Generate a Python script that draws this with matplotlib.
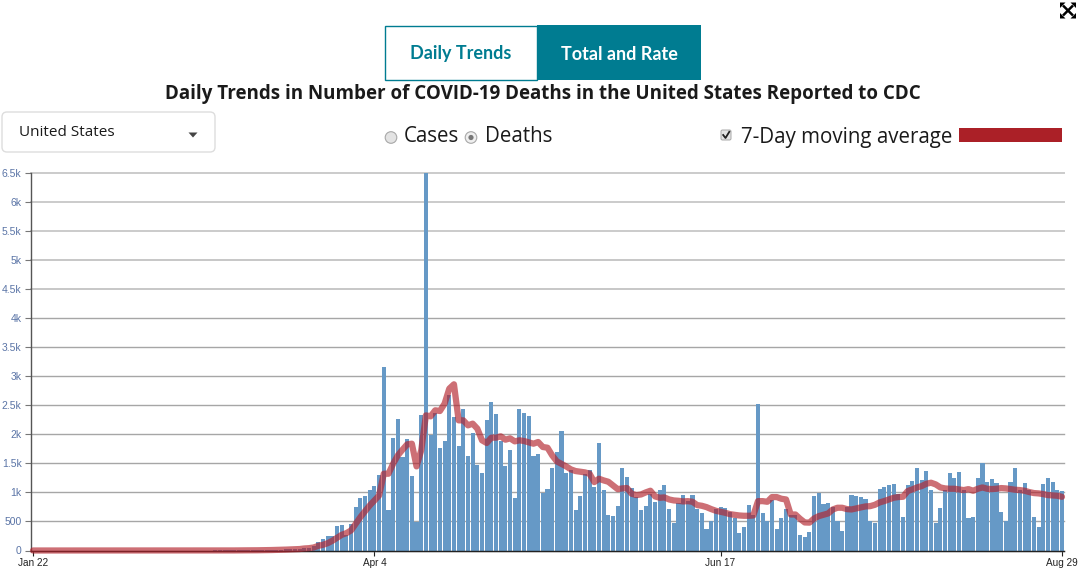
import matplotlib
matplotlib.use("Agg")
import matplotlib.pyplot as plt
import numpy as np
from matplotlib.patches import Rectangle, FancyBboxPatch, Polygon, Circle

title = "Daily Trends in Number of COVID-19 Deaths in the United States Reported to CDC"
x_tick_days = [0, 73, 147, 220]
x_tick_labels = ["Jan 22", "Apr 4", "Jun 17", "Aug 29"]
y_ticks = [0, 500, 1000, 1500, 2000, 2500, 3000, 3500, 4000, 4500, 5000, 5500, 6000, 6500]
y_tick_labels = ["0", "500", "1k", "1.5k", "2k", "2.5k", "3k", "3.5k", "4k", "4.5k", "5k", "5.5k", "6k", "6.5k"]

daily_deaths = [
    0, 0, 0, 0, 0, 0, 0, 0, 0, 0,
    0, 0, 0, 0, 0, 0, 0, 0, 0, 0,
    0, 0, 0, 0, 0, 0, 0, 0, 0, 0,
    0, 0, 0, 0, 0, 0, 0, 0, 0, 1,
    1, 1, 1, 2, 2, 2, 3, 4, 5, 7,
    8, 10, 12, 15, 18, 20, 25, 30, 40, 50,
    80, 138, 190, 253, 247, 420, 442, 259, 454, 741,
    908, 931, 1046, 1115, 1293, 3155, 690, 1942, 2258, 1609,
    1925, 1276, 494, 2327, 6500, 1988, 2368, 1759, 1879, 2681,
    2300, 1805, 2442, 1620, 2023, 1465, 1333, 2247, 2552, 2350,
    1879, 1460, 1724, 902, 2442, 2373, 2310, 1632, 1655, 994,
    1063, 1425, 1701, 2050, 1328, 1391, 701, 931, 1310, 1391,
    1092, 1850, 1046, 615, 592, 770, 1414, 1264, 1069, 920,
    695, 759, 977, 833, 1034, 1126, 707, 471, 816, 948,
    850, 948, 713, 644, 368, 500, 718, 753, 730, 661,
    552, 305, 408, 782, 603, 2520, 649, 506, 862, 368,
    557, 718, 603, 603, 270, 236, 322, 937, 994, 805,
    816, 750, 500, 333, 753, 948, 931, 920, 880, 500,
    477, 1052, 1086, 1121, 1149, 971, 569, 1132, 1195, 1420,
    1218, 1374, 1050, 477, 736, 1040, 1328, 1253, 1345, 1040,
    563, 569, 1253, 1500, 1172, 1236, 1155, 661, 500, 1178,
    1414, 1040, 1161, 1040, 575, 397, 1144, 1247, 1178, 1040,
    1017,
]

moving_average = [
    0, 0, 0, 0, 0, 0, 0, 0, 0, 0,
    0, 0, 0, 0, 0, 0, 0, 0, 0, 0,
    0, 0, 0, 0, 0, 0, 0, 0, 0, 0,
    0, 0, 0, 0, 0, 0, 0, 0, 0, 1,
    1, 1, 1, 1, 2, 2, 3, 3, 4, 5,
    6, 8, 10, 12, 15, 18, 20, 25, 35, 40,
    52, 80, 98, 126, 167, 218, 270, 299, 345, 460,
    575, 678, 776, 862, 948, 1322, 1322, 1494, 1638, 1736,
    1828, 1839, 1448, 1724, 2327, 2310, 2414, 2402, 2529, 2787,
    2862, 2241, 2241, 2155, 2184, 2098, 1897, 1851, 1943, 1943,
    1966, 1908, 1931, 1879, 1897, 1885, 1862, 1839, 1868, 1782,
    1770, 1638, 1534, 1490, 1448, 1397, 1368, 1356, 1345, 1322,
    1178, 1236, 1207, 1184, 1121, 1057, 1069, 1075, 977, 954,
    965, 1000, 1029, 931, 908, 914, 879, 862, 856, 845,
    850, 839, 782, 770, 747, 713, 684, 667, 649, 626,
    615, 603, 598, 598, 603, 850, 850, 839, 920, 920,
    891, 879, 620, 620, 546, 483, 480, 552, 592, 615,
    638, 707, 736, 736, 713, 707, 724, 741, 759, 764,
    787, 828, 851, 880, 908, 920, 925, 1023, 1052, 1086,
    1109, 1149, 1167, 1138, 1086, 1069, 1063, 1063, 1052, 1040,
    1057, 1029, 1063, 1086, 1063, 1057, 1063, 1075, 1069, 1057,
    1046, 1040, 1029, 1006, 989, 983, 971, 954, 948, 943,
    925,
]

plt.rcParams['font.family'] = ['Open Sans', 'DejaVu Sans']
W, H = 1086, 576
fig = plt.figure(figsize=(W / 100, H / 100), dpi=100, facecolor='white')

# chart axes, placed in pixel terms
L, R, T, B = 30.5, 1064.0, 173.0, 550.5
ax = fig.add_axes([L / W, 1 - B / H, (R - L) / W, (B - T) / H])
px_per_day = (1062.0 - 33.0) / 220
ax.set_xlim((L - 33.0) / px_per_day, (R - 33.0) / px_per_day)
ax.set_ylim(0, 6500)

days = np.arange(len(daily_deaths))
ax.bar(days, daily_deaths, width=0.88, color='#6699c6', zorder=2)
ax.plot(days, moving_average, color='#b2222c', alpha=0.65, lw=4.5,
        solid_joinstyle='round', solid_capstyle='round', zorder=3, clip_on=False)

for s in ('top', 'right'):
    ax.spines[s].set_visible(False)
ax.spines['left'].set_color('#555555')
ax.spines['left'].set_linewidth(1.0)
ax.spines['bottom'].set_color('#222222')
ax.spines['bottom'].set_linewidth(1.0)
ax.set_axisbelow(True)
ax.yaxis.grid(True, zorder=1)
ax.xaxis.grid(False)
ax.set_yticks(y_ticks, y_tick_labels)
ax.set_xticks(x_tick_days, x_tick_labels)
for gl, level in zip(ax.get_ygridlines(), y_ticks):
    if level >= 5500:
        gl.set_color('#cbcbcb'); gl.set_linewidth(1.4)
    elif level >= 4500:
        gl.set_color('#bdbdbd'); gl.set_linewidth(1.2)
    else:
        gl.set_color('#a6a6a6'); gl.set_linewidth(1.0)
    gl.set_clip_on(False)
ax.tick_params(axis='y', length=4.5, width=0.8, color='#777777', labelcolor='#5a74a6',
               labelsize=7.5, pad=2)
ax.tick_params(axis='x', length=3.8, width=0.8, color='#222222', labelcolor='#222222',
               labelsize=7.2, pad=1.5)
for lab in ax.get_xticklabels() + ax.get_yticklabels():
    lab.set_fontfamily(['Liberation Sans', 'DejaVu Sans'])

# page furniture, in a full-figure overlay measured in pixels
ui = fig.add_axes([0, 0, 1, 1], facecolor='none')
ui.set_xlim(0, W)
ui.set_ylim(H, 0)
ui.axis('off')

teal = '#007c91'
dark = '#1a1a1a'
ui.add_patch(Rectangle((384.5, 25.5), 152.5, 54, fc='white', ec=teal, lw=1))
ui.add_patch(Rectangle((537, 25), 164, 55, fc=teal, ec='none'))
ui.text(460.5, 54, "Daily Trends", color=teal, fontsize=13.0, fontweight='bold',
        ha='center', va='center', family=['Lato', 'DejaVu Sans'])
ui.text(619, 54, "Total and Rate", color='white', fontsize=13.0, fontweight='bold',
        ha='center', va='center', family=['Lato', 'DejaVu Sans'])
ui.text(542.5, 94, title, color=dark, fontsize=13.5, fontweight='bold', ha='center', va='center')

ui.add_patch(FancyBboxPatch((6, 116), 205, 32, boxstyle='round,pad=4,rounding_size=5',
                            fc='white', ec='#dddddd', lw=1))
ui.text(19, 133, "United States", color=dark, fontsize=11, ha='left', va='center')
ui.add_patch(Polygon([[188.5, 132.5], [197.5, 132.5], [193, 137.5]], fc='#444444', ec='none'))

ui.add_patch(Circle((391, 137.5), 5.8, fc='#e3e3e3', ec='#a8a8a8', lw=0.8))
ui.text(404, 137, "Cases", color=dark, fontsize=14.8, ha='left', va='center')
ui.add_patch(Circle((471, 137.5), 5.8, fc='#efefef', ec='#a8a8a8', lw=0.8))
ui.add_patch(Circle((471, 137.5), 2.6, fc='#777777', ec='none'))
ui.text(485, 137, "Deaths", color=dark, fontsize=14.8, ha='left', va='center')

ui.add_patch(FancyBboxPatch((722, 131), 8, 8, boxstyle='round,pad=1,rounding_size=1.5',
                            fc='#e4e4e4', ec='#a8a8a8', lw=0.7))
ui.plot([723.2, 725.5, 729.3], [135, 138, 131.8], color='#222222', lw=1.3)
ui.text(741, 137, "7-Day moving average", color=dark, fontsize=14.8, ha='left', va='center')
ui.add_patch(Rectangle((959, 128), 103, 14, fc='#ab2027', ec='none'))

# expand icon
cx, cy = 1068, 10.5
for sx, sy in ((-1, -1), (1, -1), (-1, 1), (1, 1)):
    ui.plot([cx, cx + sx * 5], [cy, cy + sy * 5], color='black', lw=1.8, solid_capstyle='butt')
    ui.add_patch(Polygon([[cx + sx * 8, cy + sy * 8], [cx + sx * 2.5, cy + sy * 8],
                          [cx + sx * 8, cy + sy * 2.5]], fc='black', ec='none'))

fig.savefig('out.png', dpi=100)
